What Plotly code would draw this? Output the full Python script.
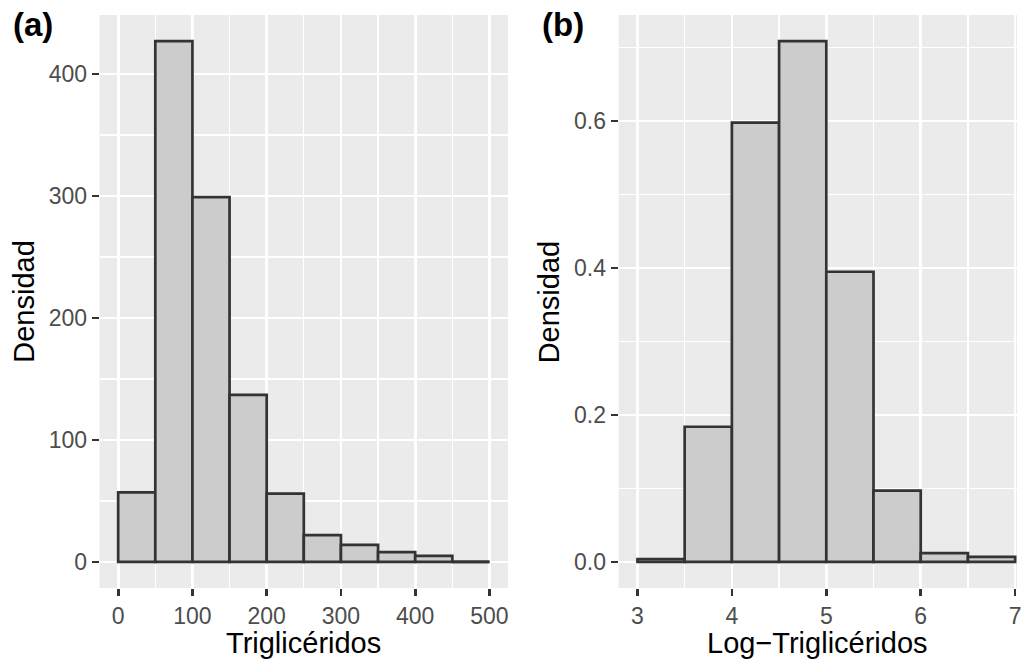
import plotly.graph_objects as go

# ---------------- data ----------------
edges_a = [0, 50, 100, 150, 200, 250, 300, 350, 400, 450, 500]
counts_a = [57, 427, 299, 137, 56, 22, 14, 8, 5, 0]

edges_b = [3.0, 3.5, 4.0, 4.5, 5.0, 5.5, 6.0, 6.5, 7.0]
dens_b = [0.004, 0.184, 0.598, 0.709, 0.395, 0.097, 0.012, 0.007]

xticks_a = [0, 100, 200, 300, 400, 500]
yticks_a = [0, 100, 200, 300, 400]
xticks_b = [3, 4, 5, 6, 7]
yticks_b = [0.0, 0.2, 0.4, 0.6]

xlab_a = "Triglicéridos"
xlab_b = "Log−Triglicéridos"
ylab = "Densidad"
tags = ["(a)", "(b)"]

# ---------------- style ----------------
W, H = 1029, 660
FONT = "Liberation Sans, Arial, Helvetica, sans-serif"
FILL = "#CCCCCC"
EDGE = "#333333"
PANEL = "#EBEBEB"
LW = 2.7
TICK_FS = 23
TITLE_FS = 29
TAG_FS = 33


def px_x(p):
    return p / W


def px_y(p):
    return 1 - p / H


fig = go.Figure()


def add_hist(edges, vals, xa, ya):
    centers = [(edges[i] + edges[i + 1]) / 2 for i in range(len(vals))]
    widths = [edges[i + 1] - edges[i] for i in range(len(vals))]
    fig.add_trace(go.Bar(
        x=centers, y=vals, width=widths,
        marker=dict(color=FILL, line=dict(color=EDGE, width=LW)),
        xaxis=xa, yaxis=ya, showlegend=False, hoverinfo="skip",
    ))
    # zero-height bins are drawn as a flat outline (as ggplot does)
    for i, v in enumerate(vals):
        if v == 0:
            fig.add_trace(go.Scatter(
                x=[edges[i], edges[i + 1]], y=[v, v], mode="lines",
                line=dict(color=EDGE, width=LW),
                xaxis=xa, yaxis=ya, showlegend=False, hoverinfo="skip",
            ))


add_hist(edges_a, counts_a, "x", "y")
add_hist(edges_b, dens_b, "x2", "y2")


def expand(lo, hi, f=0.05):
    d = (hi - lo) * f
    return [lo - d, hi + d]


common = dict(
    showgrid=True, gridcolor="white", gridwidth=LW,
    zeroline=False, showline=False,
    ticks="outside", ticklen=7, tickwidth=LW, tickcolor=EDGE,
    tickfont=dict(family=FONT, size=TICK_FS, color="#4D4D4D"),
)

ya_rng = expand(0, max(counts_a))
yb_rng = expand(0, max(dens_b))

fig.update_layout(
    width=W, height=H,
    margin=dict(l=0, r=0, t=0, b=0),
    paper_bgcolor="white", plot_bgcolor=PANEL,
    bargap=0,
    xaxis=dict(domain=[px_x(100), px_x(510)], range=expand(0, 500),
               tickvals=xticks_a, ticktext=[str(v) for v in xticks_a],
               minor=dict(dtick=50, tick0=0, showgrid=True, gridcolor="white", gridwidth=1.35),
               anchor="y", **common),
    yaxis=dict(domain=[px_y(588), px_y(15)], range=ya_rng,
               tickvals=yticks_a, ticktext=[str(v) for v in yticks_a],
               minor=dict(dtick=50, tick0=0, showgrid=True, gridcolor="white", gridwidth=1.35),
               anchor="x", **common),
    xaxis2=dict(domain=[px_x(621), px_x(1021)], range=[2.8, 7.02],
                tickvals=xticks_b, ticktext=[str(v) for v in xticks_b],
                minor=dict(dtick=0.5, tick0=0, showgrid=True, gridcolor="white", gridwidth=1.35),
                anchor="y2", **common),
    yaxis2=dict(domain=[px_y(588), px_y(15)], range=yb_rng,
                tickvals=yticks_b, ticktext=[f"{v:.1f}" for v in yticks_b],
                minor=dict(dtick=0.1, tick0=0, showgrid=True, gridcolor="white", gridwidth=1.35),
                anchor="x2", **common),
)

ann = []
title_font = dict(family=FONT, size=TITLE_FS, color="black")
ann.append(dict(text=xlab_a, x=px_x(305), y=px_y(643), xref="paper", yref="paper",
                xanchor="center", yanchor="middle", showarrow=False, font=title_font))
ann.append(dict(text=xlab_b, x=px_x(821), y=px_y(643), xref="paper", yref="paper",
                xanchor="center", yanchor="middle", showarrow=False, font=title_font))
ann.append(dict(text=ylab, x=px_x(23.3), y=px_y(301.5), xref="paper", yref="paper",
                xanchor="center", yanchor="middle", textangle=-90, showarrow=False, font=title_font))
ann.append(dict(text=ylab, x=px_x(551), y=px_y(301.5), xref="paper", yref="paper",
                xanchor="center", yanchor="middle", textangle=-90, showarrow=False, font=title_font))
tag_font = dict(family=FONT, size=TAG_FS, color="black")
ann.append(dict(text="<b>" + tags[0] + "</b>", x=px_x(33.5), y=px_y(25), xref="paper", yref="paper",
                xanchor="center", yanchor="middle", showarrow=False, font=tag_font))
ann.append(dict(text="<b>" + tags[1] + "</b>", x=px_x(565), y=px_y(25), xref="paper", yref="paper",
                xanchor="center", yanchor="middle", showarrow=False, font=tag_font))
fig.update_layout(annotations=ann)

fig.write_html(
    "out.html",
    config={"displayModeBar": False, "staticPlot": True},
    post_script="document.body.style.margin='0';document.body.style.overflow='hidden';",
)
